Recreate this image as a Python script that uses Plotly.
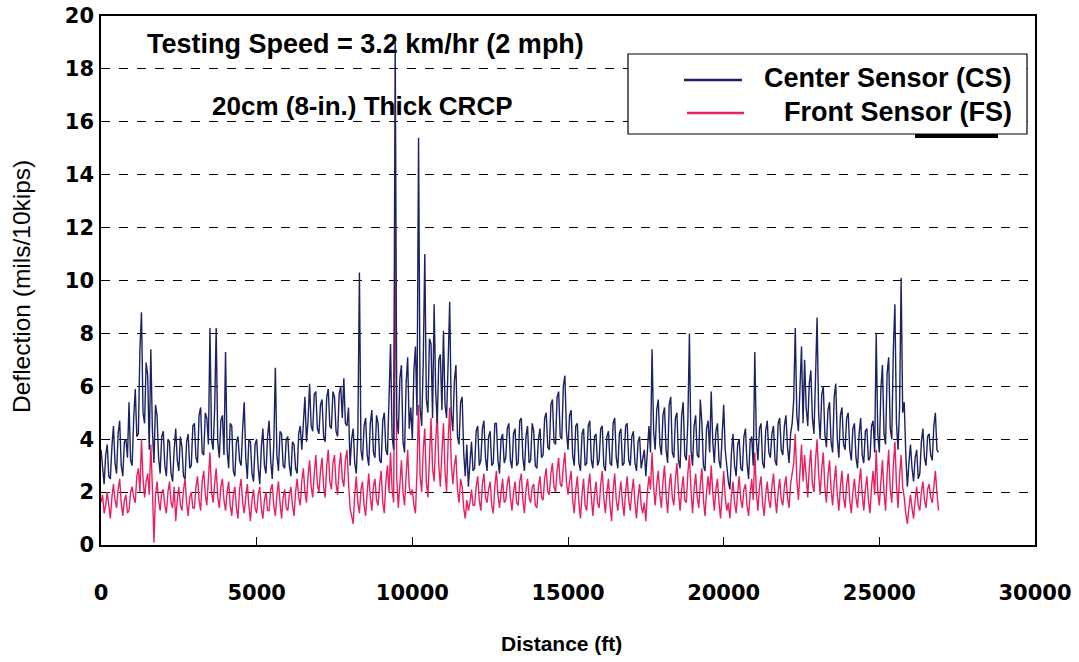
import plotly.graph_objects as go

# Distance step 50 ft, 0 .. 26900 ft
distance_step = 50
center_sensor = [
    3.6, 2.9, 2.3, 3.4, 3.8, 2.6, 2.5, 3.7, 4.5, 3.1, 2.7, 4.2, 4.7, 3.0, 2.6, 3.9, 4.0, 3.3, 5.4, 3.2,
    3.0, 4.8, 5.9, 4.1, 4.2, 7.4, 8.8, 5.0, 4.6, 6.9, 6.4, 3.6, 7.4, 4.4, 3.1, 5.3, 4.9, 3.3, 2.7, 4.1,
    4.3, 3.0, 2.6, 4.0, 3.9, 2.7, 2.4, 3.6, 4.4, 3.2, 2.8, 4.1, 3.7, 2.6, 2.5, 3.9, 4.2, 2.9, 3.0, 4.5,
    4.6, 3.3, 3.1, 4.9, 5.2, 3.5, 3.4, 5.0, 4.8, 3.8, 8.2, 4.0, 3.6, 5.1, 8.2, 3.9, 3.3, 4.7, 4.9, 3.4,
    7.3, 3.6, 2.9, 4.6, 4.5, 2.8, 2.6, 3.9, 4.1, 3.2, 3.0, 4.4, 5.4, 3.3, 2.5, 4.0, 3.9, 2.7, 2.4, 3.8,
    4.0, 2.9, 2.3, 3.7, 4.4, 3.0, 2.7, 4.1, 4.7, 3.2, 2.5, 3.8, 6.7, 3.4, 2.8, 4.3, 4.2, 3.0, 2.9, 4.0,
    4.1, 3.0, 2.6, 3.9, 3.8, 2.9, 2.7, 4.2, 4.5, 3.6, 4.9, 5.6, 3.9, 4.7, 6.1, 4.5, 4.3, 5.7, 5.8, 4.4,
    4.2, 5.3, 5.5, 4.1, 3.9, 5.6, 5.9, 4.5, 4.4, 5.8, 5.6, 4.3, 4.1, 5.7, 6.0, 4.8, 6.3, 4.6, 4.5, 5.2,
    3.0, 4.0, 4.4, 3.1, 2.7, 4.2, 10.3, 3.6, 3.2, 4.5, 4.8, 3.4, 3.0, 4.6, 5.1, 3.5, 3.3, 4.9, 4.6, 3.2,
    3.1, 4.7, 5.0, 3.6, 3.4, 5.3, 7.6, 4.1, 3.6, 19.0, 4.8, 4.2, 6.3, 6.8, 3.9, 3.5, 6.1, 7.1, 4.4, 5.2,
    4.0, 6.6, 7.5, 4.9, 15.4, 5.2, 4.5, 6.9, 11.0, 5.5, 5.0, 7.8, 7.6, 4.8, 9.1, 5.8, 4.6, 7.0, 7.2, 5.1,
    8.1, 5.3, 4.8, 6.9, 9.2, 5.0, 4.3, 6.2, 6.8, 4.1, 3.8, 5.4, 5.6, 3.5, 2.6, 3.8, 2.2, 3.1, 3.9, 2.8,
    2.9, 4.3, 4.5, 3.0, 3.2, 4.4, 4.7, 3.3, 2.8, 4.1, 4.3, 3.0, 3.1, 4.6, 4.6, 3.2, 2.7, 4.0, 4.2, 3.1,
    3.3, 4.4, 4.6, 3.2, 2.9, 4.2, 4.4, 3.0, 3.1, 4.7, 4.8, 3.3, 2.8, 4.1, 4.5, 3.1, 3.2, 4.6, 4.3, 3.0,
    2.9, 4.0, 4.4, 3.3, 3.4, 4.8, 5.0, 3.7, 3.6, 5.3, 5.5, 3.9, 3.8, 5.6, 5.8, 4.1, 4.0, 6.0, 6.4, 4.3,
    3.6, 4.9, 5.1, 3.4, 3.0, 4.5, 4.6, 3.1, 2.8, 4.2, 4.4, 3.0, 3.1, 4.5, 4.7, 3.2, 2.9, 4.1, 4.2, 3.0,
    3.2, 4.4, 4.5, 3.0, 2.8, 4.1, 4.3, 3.1, 3.0, 4.6, 4.8, 3.3, 2.9, 4.2, 4.4, 3.0, 3.1, 4.5, 4.6, 3.2,
    3.0, 4.1, 4.3, 3.1, 2.8, 3.9, 4.1, 2.9, 3.2, 3.6, 2.6, 3.4, 4.5, 3.5, 7.4, 4.3, 3.6, 5.1, 5.5, 3.8,
    3.4, 4.9, 5.2, 3.6, 3.1, 5.3, 5.6, 3.5, 3.3, 4.8, 5.0, 3.2, 2.9, 4.9, 5.4, 3.4, 3.2, 4.7, 8.0, 3.6,
    3.0, 4.5, 4.9, 3.4, 3.3, 5.5, 4.6, 3.0, 2.8, 4.4, 4.7, 3.5, 5.8, 3.9, 3.1, 4.3, 4.6, 3.2, 2.9, 4.1,
    5.3, 3.6, 3.0, 2.4, 2.1, 3.5, 4.2, 3.0, 2.6, 3.8, 4.0, 2.9, 2.8, 4.1, 4.4, 3.1, 2.5, 3.9, 4.1, 3.0,
    7.3, 4.0, 3.2, 4.4, 4.6, 3.1, 2.9, 4.3, 4.7, 3.5, 3.3, 4.2, 4.5, 3.2, 3.0, 4.6, 4.8, 3.6, 3.4, 4.5,
    4.9, 3.7, 3.1, 4.2, 4.6, 5.5, 8.2, 4.9, 4.3, 5.8, 7.5, 4.6, 7.0, 5.2, 4.5, 6.1, 6.6, 4.8, 4.2, 6.3,
    8.6, 5.0, 4.0, 5.7, 6.0, 4.2, 3.7, 5.1, 5.4, 3.9, 3.5, 5.6, 6.1, 4.0, 3.3, 4.9, 5.2, 3.8, 3.6, 4.8,
    5.0, 3.6, 3.2, 4.4, 4.6, 3.3, 2.9, 4.2, 4.8, 3.4, 3.1, 4.3, 4.4, 3.2, 3.3, 4.5, 4.7, 3.5, 8.0, 4.2,
    3.5, 5.9, 6.8, 4.2, 3.8, 6.5, 7.1, 4.4, 4.0, 7.4, 9.1, 4.6, 3.6, 5.2, 10.1, 5.0, 5.4, 3.4, 2.2, 3.1,
    3.8, 2.9, 2.4, 3.3, 3.6, 2.5, 2.7, 3.9, 4.4, 3.3, 3.0, 4.1, 4.2, 3.4, 3.2, 4.5, 5.0, 3.6, 3.5,
]
front_sensor = [
    1.6, 1.9, 1.2, 1.5, 2.0, 1.4, 1.0, 1.8, 2.3, 1.7, 1.4, 2.1, 2.5, 1.6, 1.1, 1.7, 1.9, 1.2, 1.3, 2.0,
    2.2, 1.8, 1.6, 2.6, 2.9, 2.0, 4.0, 2.5, 1.8, 2.4, 2.7, 1.9, 3.8, 2.2, 0.1, 1.9, 2.4, 1.7, 1.3, 2.0,
    2.1, 1.5, 1.2, 2.0, 2.4, 1.6, 1.4, 2.2, 0.9, 1.7, 2.2, 1.5, 1.3, 2.1, 2.5, 1.6, 1.1, 1.8, 2.0, 1.4,
    1.4, 2.2, 2.6, 1.7, 1.3, 2.4, 2.8, 1.9, 1.5, 2.5, 3.5, 2.0, 1.6, 2.3, 2.9, 1.8, 1.4, 2.2, 2.5, 1.7,
    1.3, 2.0, 2.4, 1.5, 1.1, 1.9, 2.2, 1.4, 1.0, 2.1, 2.5, 1.6, 1.2, 1.8, 2.3, 1.5, 0.9, 1.7, 2.1, 1.4,
    1.2, 1.9, 2.2, 1.4, 1.0, 1.7, 2.0, 1.3, 1.3, 2.1, 2.3, 1.5, 1.1, 1.9, 2.4, 1.6, 1.0, 1.8, 2.1, 1.4,
    1.3, 1.9, 2.2, 1.5, 1.1, 2.0, 2.5, 1.8, 1.5, 2.4, 2.9, 2.0, 1.6, 2.6, 3.2, 2.2, 1.8, 2.7, 3.4, 2.3,
    2.0, 2.8, 3.3, 2.2, 1.8, 3.0, 3.6, 2.4, 2.1, 3.1, 3.4, 2.3, 1.9, 2.9, 3.5, 2.5, 2.2, 3.2, 3.6, 2.4,
    1.4, 1.1, 0.8, 1.9, 2.6, 1.6, 1.2, 2.1, 2.4, 1.5, 1.1, 2.0, 2.7, 1.8, 1.3, 2.2, 2.5, 1.7, 1.5, 2.3,
    2.8, 1.6, 1.2, 2.4, 3.0, 2.0, 3.5, 2.1, 1.6, 12.0, 2.5, 1.4, 2.2, 3.2, 2.0, 1.5, 2.6, 3.6, 2.2, 1.9,
    2.1, 1.5, 1.2, 2.8, 5.3, 2.6, 2.0, 3.6, 4.4, 2.4, 1.8, 3.7, 4.8, 2.9, 2.4, 3.9, 5.0, 3.0, 2.2, 3.5,
    4.6, 2.8, 2.0, 3.9, 5.2, 3.1, 2.3, 3.0, 3.4, 2.1, 1.6, 2.5, 2.2, 1.4, 1.0, 1.7, 1.3, 1.6, 2.1, 1.5,
    1.5, 2.2, 2.6, 1.7, 1.3, 2.3, 2.7, 1.8, 1.6, 2.1, 2.4, 1.5, 1.2, 2.2, 2.8, 1.9, 1.4, 2.0, 2.5, 1.6,
    1.7, 2.3, 2.6, 1.8, 1.3, 2.0, 2.4, 1.6, 1.5, 2.4, 2.7, 1.7, 1.2, 2.1, 2.5, 1.8, 1.6, 2.2, 2.3, 1.5,
    1.4, 2.2, 2.6, 1.8, 1.7, 2.5, 2.9, 2.0, 1.9, 2.7, 3.1, 2.2, 2.0, 2.8, 3.3, 2.3, 2.2, 3.0, 3.5, 2.4,
    1.9, 2.4, 2.8, 1.7, 1.2, 2.1, 2.6, 1.6, 1.0, 1.9, 2.5, 1.5, 1.3, 2.2, 2.7, 1.8, 1.1, 1.9, 2.4, 1.6,
    1.4, 2.3, 2.8, 1.8, 1.2, 2.0, 2.5, 1.5, 0.9, 2.1, 2.7, 1.7, 1.3, 1.9, 2.4, 1.6, 1.1, 2.0, 2.6, 1.7,
    1.3, 2.0, 2.5, 1.6, 1.0, 1.8, 2.3, 1.5, 1.2, 1.6, 0.9, 2.0, 2.6, 2.1, 3.5, 2.2, 1.5, 2.3, 2.8, 1.9,
    1.4, 2.4, 3.0, 1.9, 1.2, 2.2, 2.7, 1.8, 1.5, 2.5, 3.1, 2.0, 1.3, 2.1, 2.6, 1.7, 1.6, 2.7, 3.4, 2.1,
    1.2, 2.1, 2.7, 1.8, 1.4, 2.3, 2.9, 1.7, 1.1, 2.0, 2.6, 1.9, 3.0, 2.0, 1.3, 2.1, 2.5, 1.6, 1.0, 1.9,
    2.8, 1.8, 1.3, 1.6, 1.0, 1.9, 2.4, 1.6, 1.2, 2.0, 2.6, 1.7, 1.4, 2.1, 2.3, 1.5, 1.1, 1.9, 2.5, 1.7,
    3.5, 2.0, 1.3, 2.2, 2.6, 1.6, 1.1, 1.9, 2.4, 1.7, 1.4, 2.2, 2.7, 1.8, 1.2, 2.0, 2.5, 1.7, 1.5, 2.2,
    2.6, 1.8, 1.4, 2.3, 2.8, 3.1, 4.2, 2.5, 1.7, 3.0, 3.8, 2.4, 3.4, 2.6, 1.8, 2.9, 3.6, 2.3, 2.0, 3.2,
    4.0, 2.7, 1.9, 2.9, 3.5, 2.2, 1.6, 2.6, 3.2, 2.1, 1.5, 2.4, 3.0, 1.9, 1.3, 2.2, 2.8, 1.8, 1.4, 2.3,
    2.7, 1.7, 1.2, 2.0, 2.5, 1.8, 1.4, 2.3, 2.9, 1.9, 1.3, 2.1, 2.6, 1.7, 1.2, 2.2, 2.8, 1.9, 3.6, 2.0,
    1.5, 2.4, 3.2, 2.0, 1.3, 2.7, 3.6, 2.1, 1.6, 3.0, 3.9, 2.3, 1.4, 2.6, 3.4, 2.2, 1.8, 1.2, 0.8, 1.4,
    1.9, 1.4, 1.0, 1.7, 2.2, 1.5, 1.3, 2.0, 2.4, 1.7, 1.4, 2.1, 2.3, 1.8, 1.6, 2.2, 2.8, 2.0, 1.3,
]
distance_cs = [i * distance_step for i in range(len(center_sensor))]
distance_fs = [i * distance_step for i in range(len(front_sensor))]

x_ticks = [0, 5000, 10000, 15000, 20000, 25000, 30000]
y_ticks = [0, 2, 4, 6, 8, 10, 12, 14, 16, 18, 20]

CS_COLOR = "#1c2163"
FS_COLOR = "#e8205f"
FONT = "Liberation Sans, Arial, sans-serif"
TICKFONT = "DejaVu Sans, sans-serif"

W, H = 1079, 662
L, R, T, B = 101, 1035, 16, 545  # plot area in pixels

fig = go.Figure()
fig.add_trace(go.Scatter(x=distance_fs, y=front_sensor, mode="lines",
                         line=dict(color=FS_COLOR, width=1.4),
                         name="Front Sensor (FS)", showlegend=False))
fig.add_trace(go.Scatter(x=distance_cs, y=center_sensor, mode="lines",
                         line=dict(color=CS_COLOR, width=1.4),
                         name="Center Sensor (CS)", showlegend=False))

fig.update_layout(
    width=W, height=H,
    margin=dict(l=L, r=W - R, t=T, b=H - B, autoexpand=False),
    paper_bgcolor="white", plot_bgcolor="white",
    font=dict(family=FONT, color="black"),
    showlegend=False,
    xaxis=dict(
        range=[0, 30000], tickvals=x_ticks,
        ticktext=[f"<b>{v}</b>" for v in x_ticks],
        tickfont=dict(size=21, family=TICKFONT), ticks="inside", ticklen=8, tickcolor="black",
        ticklabelstandoff=28, automargin=False,
        showgrid=False, zeroline=False,
        showline=True, linecolor="black", linewidth=1.5, mirror=True,
    ),
    yaxis=dict(
        range=[0, 20], tickvals=y_ticks,
        ticktext=[f"<b>{v}</b>" for v in y_ticks],
        tickfont=dict(size=21, family=TICKFONT), ticks="", ticklabelstandoff=1,
        automargin=False,
        showgrid=True, gridcolor="black", griddash="dash", gridwidth=1,
        zeroline=False,
        showline=True, linecolor="black", linewidth=1.5, mirror=True,
    ),
)


def px_x(px):
    return (px - L) / (R - L)


def px_y(py):
    return (B - py) / (B - T)


# Axis titles
fig.add_annotation(xref="paper", yref="paper", x=px_x(561), y=px_y(643),
                   xanchor="center", yanchor="middle", showarrow=False,
                   text="<b>Distance (ft)</b>", font=dict(size=21))
fig.add_annotation(xref="paper", yref="paper", x=px_x(21), y=px_y(287),
                   xanchor="center", yanchor="middle", showarrow=False, textangle=-90,
                   text="Deflection (mils/10kips)", font=dict(size=24.5))

# Text annotations
fig.add_annotation(xref="paper", yref="paper", x=px_x(145), y=px_y(44),
                   xanchor="left", yanchor="middle", showarrow=False,
                   text="<b>Testing Speed = 3.2 km/hr (2 mph)</b>", font=dict(size=27))
fig.add_annotation(xref="paper", yref="paper", x=px_x(210), y=px_y(106),
                   xanchor="left", yanchor="middle", showarrow=False,
                   text="<b>20cm (8-in.) Thick CRCP</b>", font=dict(size=26))

# Custom legend box
fig.add_shape(type="rect", xref="paper", yref="paper",
              x0=px_x(915), x1=px_x(998), y0=px_y(138), y1=px_y(133),
              line=dict(width=0), fillcolor="black", layer="above")
fig.add_shape(type="rect", xref="paper", yref="paper",
              x0=px_x(628), x1=px_x(1027), y0=px_y(134), y1=px_y(54),
              line=dict(color="black", width=1.2), fillcolor="white", layer="above")
fig.add_shape(type="line", xref="paper", yref="paper",
              x0=px_x(684), x1=px_x(742), y0=px_y(80), y1=px_y(80),
              line=dict(color=CS_COLOR, width=2.5), layer="above")
fig.add_shape(type="line", xref="paper", yref="paper",
              x0=px_x(687), x1=px_x(744), y0=px_y(113), y1=px_y(113),
              line=dict(color=FS_COLOR, width=2.5), layer="above")
fig.add_annotation(xref="paper", yref="paper", x=px_x(1014), y=px_y(78),
                   xanchor="right", yanchor="middle", showarrow=False,
                   text="<b>Center Sensor (CS)</b>", font=dict(size=27))
fig.add_annotation(xref="paper", yref="paper", x=px_x(1014), y=px_y(112),
                   xanchor="right", yanchor="middle", showarrow=False,
                   text="<b>Front Sensor (FS)</b>", font=dict(size=27))

fig.write_html("out.html", config={"displayModeBar": False},
               post_script="document.body.style.margin='0px';")
